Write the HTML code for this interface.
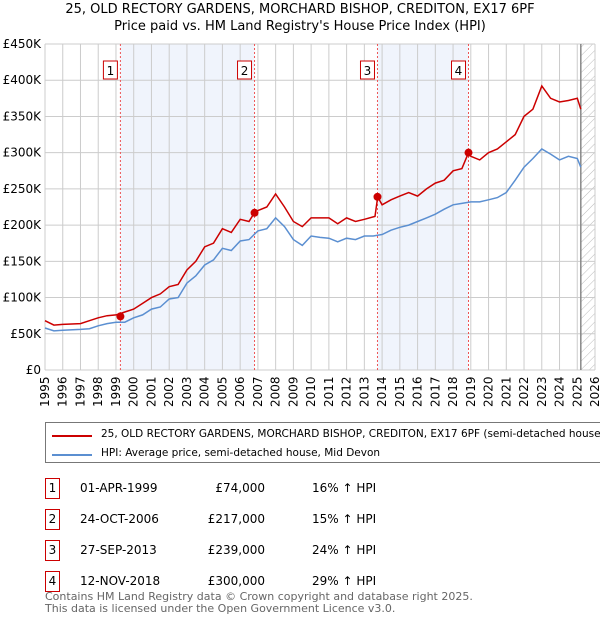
<!DOCTYPE html>
<html><head><meta charset="utf-8"><style>
body{margin:0;background:#fff;font-family:"DejaVu Sans","Liberation Sans",sans-serif;}
#wrap{position:relative;width:600px;height:620px;overflow:hidden}
.t{position:absolute;font-size:12px;color:#000;white-space:nowrap}
.box{position:absolute;border:1px solid #c00;width:13px;height:19px;font-size:12px;text-align:center;line-height:19px;background:#fff}
</style></head><body>
<div id="wrap">
<div class="t" style="left:0;width:600px;text-align:center;top:2px;font-size:13px">25, OLD RECTORY GARDENS, MORCHARD BISHOP, CREDITON, EX17 6PF</div>
<div class="t" style="left:0;width:600px;text-align:center;top:19px;font-size:13px">Price paid vs. HM Land Registry's House Price Index (HPI)</div>
<svg id="chart" width="600" height="420" style="position:absolute;left:0;top:0" font-family="DejaVu Sans, Liberation Sans, sans-serif" font-size="12"></svg>
<div style="position:absolute;left:45px;top:422px;width:560px;height:39px;border:1px solid #777;">
 <div style="position:absolute;left:6px;top:12px;width:40px;height:2px;background:#c00"></div>
 <div class="t" style="left:55px;top:5px;font-size:10.5px">25, OLD RECTORY GARDENS, MORCHARD BISHOP, CREDITON, EX17 6PF (semi-detached house)</div>
 <div style="position:absolute;left:6px;top:31px;width:40px;height:2px;background:#5b8fd1"></div>
 <div class="t" style="left:55px;top:24px;font-size:10.5px">HPI: Average price, semi-detached house, Mid Devon</div>
</div>
<div id="table"></div>
<div class="t" style="left:45px;top:590px;color:#666;font-size:11px">Contains HM Land Registry data © Crown copyright and database right 2025.</div>
<div class="t" style="left:45px;top:602px;color:#666;font-size:11px">This data is licensed under the Open Government Licence v3.0.</div>
</div>
<script>
const years=[1995,1995.5,1996,1997,1997.5,1998,1998.5,1999,1999.5,2000,2000.5,2001,2001.5,2002,2002.5,2003,2003.5,2004,2004.5,2005,2005.5,2006,2006.5,2007,2007.5,2008,2008.5,2009,2009.5,2010,2010.5,2011,2011.5,2012,2012.5,2013,2013.5,2014,2014.5,2015,2015.5,2016,2016.5,2017,2017.5,2018,2018.5,2019,2019.5,2020,2020.5,2021,2021.5,2022,2022.5,2023,2023.5,2024,2024.5,2025,2025.2];
const hpi=[58,54,55,56,57,61,64,66,66,72,76,84,87,98,100,120,130,145,152,168,165,178,180,192,195,210,198,180,172,185,183,182,177,182,180,185,185,187,193,197,200,205,210,215,222,228,230,232,232,235,238,245,262,280,292,305,298,290,295,292,280];
const redYears=[1995,1995.5,1996,1997,1997.5,1998,1998.5,1999,1999.5,2000,2000.5,2001,2001.5,2002,2002.5,2003,2003.5,2004,2004.5,2005,2005.5,2006,2006.5,2006.8,2007,2007.5,2008,2008.5,2009,2009.5,2010,2010.5,2011,2011.5,2012,2012.5,2013,2013.6,2013.75,2014,2014.5,2015,2015.5,2016,2016.5,2017,2017.5,2018,2018.5,2018.87,2019,2019.5,2020,2020.5,2021,2021.5,2022,2022.5,2023,2023.5,2024,2024.5,2025,2025.2];
const price=[68,62,63,64,68,72,75,76,80,84,92,100,105,115,118,138,150,170,175,195,190,208,205,217,220,225,243,225,205,198,210,210,210,202,210,205,208,212,239,228,235,240,245,240,250,258,262,275,278,300,295,290,300,305,315,325,350,360,392,375,370,372,375,360];
const saleYears=[1999.25,2006.81,2013.74,2018.87];
const salePrices=[74,217,239,300];
const saleLabels=["1","2","3","4"];
const saleDates=["01-APR-1999","24-OCT-2006","27-SEP-2013","12-NOV-2018"];
const salePriceText=["£74,000","£217,000","£239,000","£300,000"];
const saleHpi=["16% ↑ HPI","15% ↑ HPI","24% ↑ HPI","29% ↑ HPI"];
const yTicks=[0,50,100,150,200,250,300,350,400,450];
const yTickLabels=["£0","£50K","£100K","£150K","£200K","£250K","£300K","£350K","£400K","£450K"];
const xTicks=[1995,1996,1997,1998,1999,2000,2001,2002,2003,2004,2005,2006,2007,2008,2009,2010,2011,2012,2013,2014,2015,2016,2017,2018,2019,2020,2021,2022,2023,2024,2025,2026];
const X0=45,X1=595,Y0=370,Y1=44;
const xs=y=>X0+(y-1995)/(2026-1995)*(X1-X0);
const ys=v=>Y0-v/450*(Y0-Y1);
const svg=document.getElementById('chart');const NS='http://www.w3.org/2000/svg';
function mk(t,a,p){const e=document.createElementNS(NS,t);for(const k in a)e.setAttribute(k,a[k]);(p||svg).appendChild(e);return e;}
const defs=mk('defs',{});
const pat=mk('pattern',{id:'hatch',width:6,height:6,patternUnits:'userSpaceOnUse',patternTransform:'rotate(45)'},defs);
mk('line',{x1:0,y1:0,x2:0,y2:6,stroke:'#bbb','stroke-width':1},pat);
let e;
e=mk('rect',{x:xs(saleYears[0]),y:Y1,width:xs(saleYears[1])-xs(saleYears[0]),height:Y0-Y1,fill:'#f0f4fc'});

e=mk('rect',{x:xs(saleYears[2]),y:Y1,width:xs(saleYears[3])-xs(saleYears[2]),height:Y0-Y1,fill:'#f0f4fc'});

e=mk('rect',{x:xs(2025.2),y:Y1,width:X1-xs(2025.2),height:Y0-Y1,fill:'url(#hatch)'});

yTicks.forEach((v,i)=>{mk('line',{x1:X0,x2:X1,y1:ys(v),y2:ys(v),stroke:'#ccc'});
 e=mk('text',{x:X0-4,y:ys(v)+4,'text-anchor':'end',fill:'#000'});e.textContent=yTickLabels[i];
 });
xTicks.forEach(y=>{mk('line',{x1:xs(y),x2:xs(y),y1:Y1,y2:Y0,stroke:'#ccc'});
 e=mk('text',{x:0,y:0,transform:`translate(${xs(y)+4},${Y0+37}) rotate(-90)`,fill:'#000'});e.textContent=y;
 });
mk('line',{x1:xs(2025.2),x2:xs(2025.2),y1:Y1,y2:Y0,stroke:'#888','stroke-width':1.5});
saleYears.forEach((y,i)=>{mk('line',{x1:xs(y),x2:xs(y),y1:Y1,y2:Y0,stroke:'#e55','stroke-dasharray':'2,2'});});
e=mk('path',{d:years.map((y,i)=>(i?'L':'M')+xs(y).toFixed(1)+','+ys(hpi[i]).toFixed(1)).join(''),fill:'none',stroke:'#5b8fd1','stroke-width':1.5});

e=mk('path',{d:redYears.map((y,i)=>(i?'L':'M')+xs(y).toFixed(1)+','+ys(price[i]).toFixed(1)).join(''),fill:'none',stroke:'#c00','stroke-width':1.5});

saleYears.forEach((y,i)=>{e=mk('circle',{cx:xs(y),cy:ys(salePrices[i]),r:4,fill:'#c00'});
 
 mk('rect',{x:xs(y)-17,y:61,width:14,height:18,fill:'#fff',stroke:'#c00'});
 e=mk('text',{x:xs(y)-10,y:75,'text-anchor':'middle',fill:'#000'});e.textContent=saleLabels[i];
 });
const tb=document.getElementById('table');
saleLabels.forEach((l,i)=>{const top=478+i*31;
 tb.insertAdjacentHTML('beforeend',`<div class="box" style="left:45px;top:${top}px">${l}</div>
 <div class="t" style="left:80px;width:77px;text-align:center;top:${top+3}px">${saleDates[i]}</div>
 <div class="t" style="left:180px;width:85px;text-align:right;top:${top+3}px">${salePriceText[i]}</div>
 <div class="t" style="left:312px;top:${top+3}px">${saleHpi[i]}</div>`);});
</script>
</body></html>
